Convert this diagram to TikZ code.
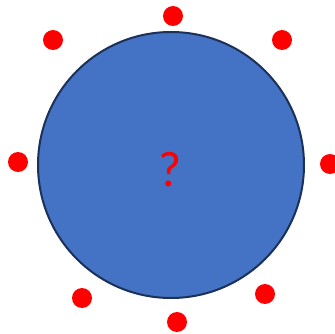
\documentclass[tikz,border=0pt]{standalone}
\usepackage{fontspec}
\usepackage{xcolor}
\newfontfamily\markfont{Carlito}
\usetikzlibrary{positioning}

\definecolor{bodyblue}{HTML}{4472C4}
\definecolor{rimblue}{HTML}{1B3157}

\begin{document}
\begin{tikzpicture}[
    x=1pt, y=-1pt,
    every node/.style={inner sep=0pt, outer sep=0pt},
    body/.style={
        circle,
        draw=rimblue,
        line width=2pt,
        fill=bodyblue,
        minimum size=266pt
    },
    dot/.style={
        circle,
        fill=red,
        minimum size=20pt
    }
]
\useasboundingbox (0,0) rectangle (335,334);

\node (ball) [body] at (171,165) {};
\node (mark) [text=red, font=\markfont\fontsize{50}{50}\selectfont] at (170,170) {?};

% points round the ball
\node (dtop) [dot] at (173,16) {};
\node (dur) [dot] at (282,40) {};
\node (dul) [dot] at (53,40) {};
\node (dleft) [dot] at (18,162) {};
\node (dright) [dot] at (330,164) {};
\node (dlr) [dot] at (265,294) {};
\node (dll) [dot] at (82,298) {};
\node (dbot) [dot] at (177,322) {};

\end{tikzpicture}
\end{document}
